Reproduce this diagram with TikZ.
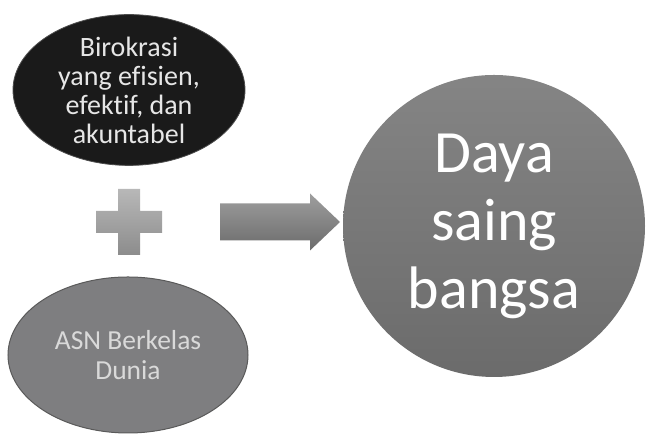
\documentclass[tikz,border=0pt]{standalone}
\usepackage{fontspec}
\setmainfont[Ligatures=NoCommon]{Carlito}
\usetikzlibrary{shapes.geometric}
\definecolor{inkdark}{HTML}{1A1A1A}
\definecolor{midgray}{HTML}{7E7E80}
\definecolor{rimgray}{HTML}{5A5A5A}
\definecolor{softwhite}{HTML}{E6E6E6}
\tikzset{
  blob/.style={ellipse, inner sep=0pt, align=center, text=softwhite},
  goal/.style={circle, inner sep=0pt, align=center, text=white},
}
\begin{document}
\begin{tikzpicture}[x=1pt,y=1pt]
\useasboundingbox (0,0) rectangle (646,435);

% upper input: efficient bureaucracy
\node[blob, fill=inkdark, draw=black!70, line width=0.8pt,
      minimum width=232, minimum height=146,
      font=\fontsize{28}{29}\selectfont] (biro) at (129,345)
  {Birokrasi\\yang efisien,\\efektif, dan\\akuntabel};

% lower input: world-class civil servants
\node[blob, fill=midgray, draw=rimgray, line width=1pt,
      minimum width=240, minimum height=156, text=black!15,
      font=\fontsize{27.5}{30}\selectfont] (asn) at (128,80)
  {ASN Berkelas\\Dunia};

% result
\node[goal, top color=black!48, bottom color=black!58, draw=none,
      minimum size=302,
      font=\fontsize{60}{68}\selectfont] (daya) at (494,209)
  {Daya\\saing\\bangsa};

% plus sign between the inputs
\coordinate (plus) at (129,213);
\shade[top color=black!28, bottom color=black!45]
  ([shift={(-11,33)}]plus) -- ([shift={(11,33)}]plus) -- ([shift={(11,11)}]plus)
  -- ([shift={(33,11)}]plus) -- ([shift={(33,-11)}]plus) -- ([shift={(11,-11)}]plus)
  -- ([shift={(11,-33)}]plus) -- ([shift={(-11,-33)}]plus) -- ([shift={(-11,-11)}]plus)
  -- ([shift={(-33,-11)}]plus) -- ([shift={(-33,11)}]plus) -- ([shift={(-11,11)}]plus) -- cycle;

% block arrow toward the result
\coordinate (tail) at (220,213);
\coordinate (tip) at (340,213);
\shade[top color=black!38, bottom color=black!58]
  ([yshift=18.5]tail) -- ([shift={(90,18.5)}]tail) -- ([shift={(90,28.5)}]tail)
  -- (tip) -- ([shift={(90,-28.5)}]tail) -- ([shift={(90,-18.5)}]tail)
  -- ([yshift=-18.5]tail) -- cycle;
\end{tikzpicture}
\end{document}
